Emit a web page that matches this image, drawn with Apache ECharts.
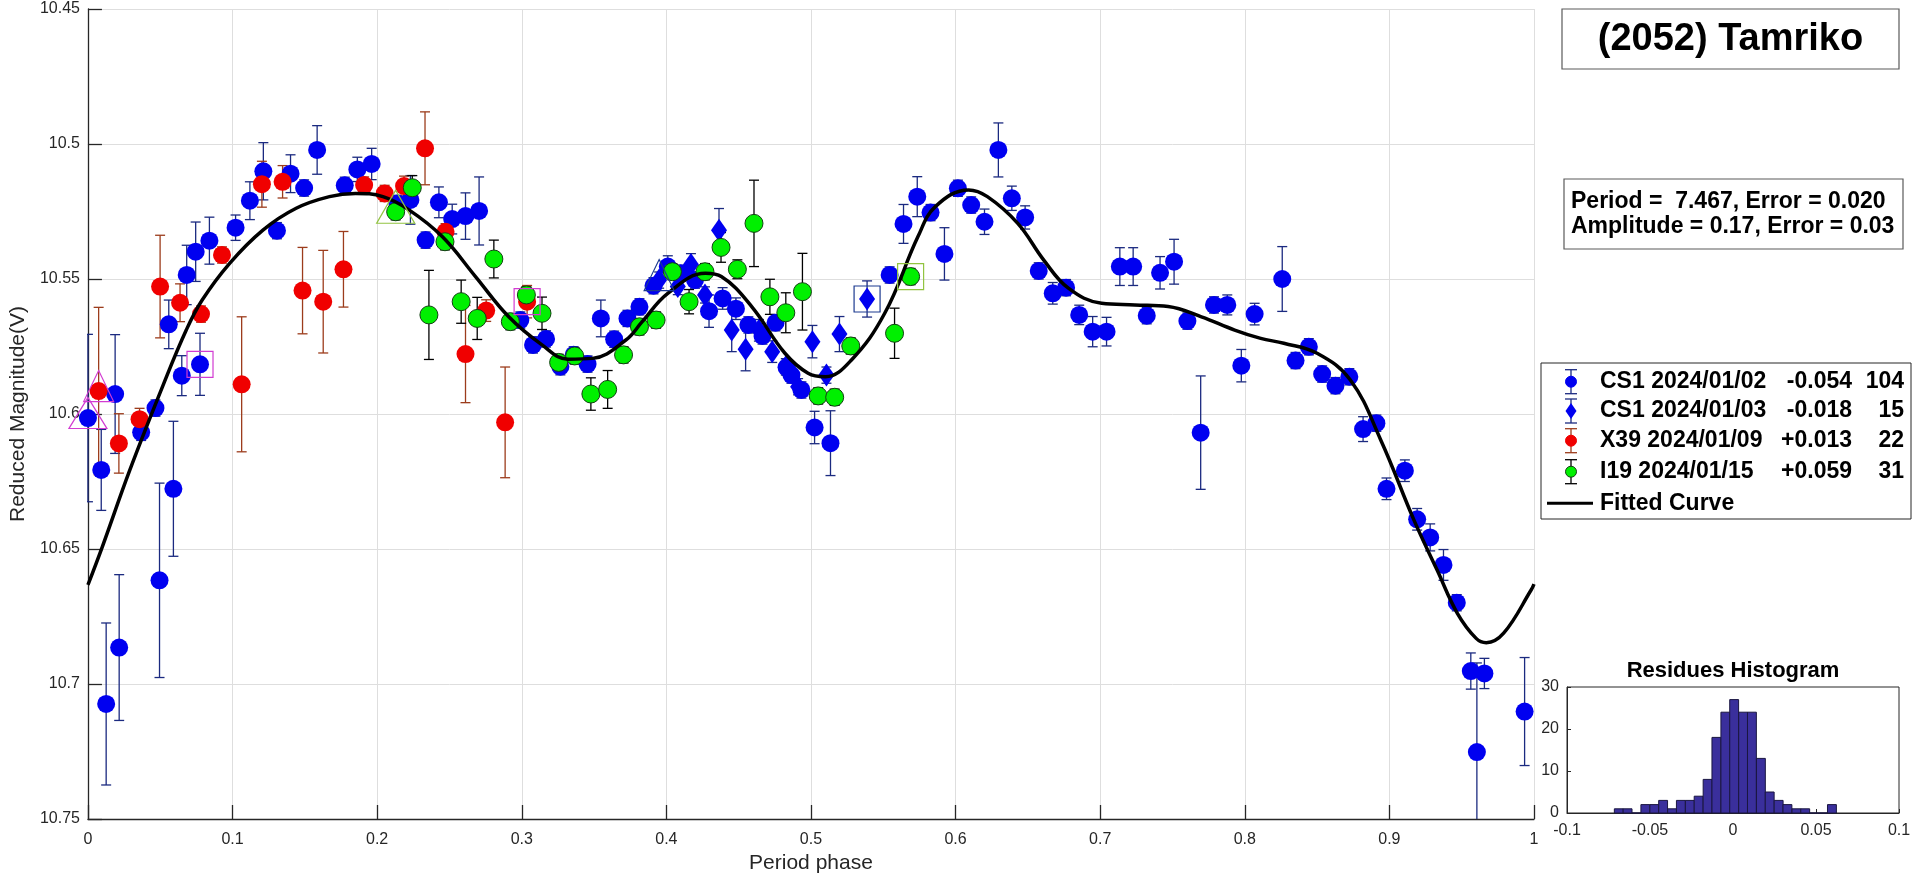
<!DOCTYPE html>
<html><head><meta charset="utf-8">
<script src="https://cdn.jsdelivr.net/npm/echarts/dist/echarts.min.js"></script>
<style>html,body{margin:0;padding:0;background:#fff}#c{width:1920px;height:879px}</style>
</head><body><div id="c"></div>
<script>
// [phase, reduced magnitude, error]
const cs1Jan02 = [
[0.0000,10.6015,0.031],[0.0092,10.6207,0.015],[0.0126,10.7074,0.030],[0.0188,10.5926,0.022],
[0.0216,10.6865,0.027],[0.0368,10.6068,0.003],[0.0467,10.5978,0.003],[0.0495,10.6616,0.036],
[0.0559,10.5668,0.009],[0.0591,10.6277,0.025],[0.0649,10.5858,0.0074],[0.0683,10.5485,0.011],
[0.0745,10.5399,0.011],[0.0775,10.5816,0.0115],[0.0840,10.5358,0.0087],[0.1021,10.5310,0.0047],
[0.1120,10.5210,0.0070],[0.1213,10.5101,0.0106],[0.1307,10.5321,0.003],[0.1401,10.5110,0.0070],
[0.1495,10.5163,0.0030],[0.1585,10.5022,0.0090],[0.1776,10.5153,0.003],[0.1863,10.5094,0.0045],
[0.1962,10.5074,0.0058],[0.2140,10.5220,0.003],[0.2230,10.5207,0.009],[0.2335,10.5356,0.003],
[0.2427,10.5216,0.0057],[0.2519,10.5278,0.0055],[0.2611,10.5267,0.0086],[0.2705,10.5248,0.0126],
[0.2990,10.5652,0.003],[0.3078,10.5744,0.003],[0.3168,10.5722,0.003],[0.3267,10.5825,0.003],
[0.3359,10.5781,0.003],[0.3455,10.5815,0.003],[0.3547,10.5646,0.0068],[0.3639,10.5723,0.003],
[0.3731,10.5646,0.003],[0.3814,10.5603,0.003],[0.3911,10.5525,0.003],[0.4010,10.5454,0.004],
[0.4099,10.5479,0.003],[0.4198,10.5504,0.003],[0.4295,10.5619,0.006],[0.4389,10.5572,0.004],
[0.4481,10.5610,0.004],[0.4567,10.5670,0.003],[0.4665,10.5711,0.003],[0.4755,10.5662,0.003],
[0.4831,10.5827,0.003],[0.4865,10.5856,0.003],[0.4934,10.5911,0.003],[0.5025,10.6050,0.006],
[0.5135,10.6108,0.012],[0.5544,10.5485,0.003],[0.5640,10.5296,0.0072],[0.5735,10.5195,0.0074],
[0.5827,10.5254,0.003],[0.5923,10.5407,0.0097],[0.6016,10.5164,0.003],[0.6108,10.5226,0.003],
[0.6200,10.5288,0.0047],[0.6296,10.5022,0.010],[0.6389,10.5201,0.0045],[0.6481,10.5272,0.0043],
[0.6575,10.5470,0.003],[0.6672,10.5553,0.004],[0.6764,10.5532,0.003],[0.6855,10.5633,0.0036],
[0.6948,10.5695,0.0056],[0.7044,10.5695,0.0053],[0.7136,10.5454,0.007],[0.7228,10.5454,0.007],
[0.7322,10.5636,0.003],[0.7414,10.5477,0.006],[0.7511,10.5436,0.0083],[0.7603,10.5656,0.003],
[0.7695,10.6069,0.021],[0.7787,10.5596,0.003],[0.7879,10.5596,0.0037],[0.7976,10.5821,0.006],
[0.8068,10.5630,0.004],[0.8259,10.5500,0.012],[0.8351,10.5802,0.003],[0.8443,10.5751,0.003],
[0.8535,10.5852,0.003],[0.8627,10.5895,0.003],[0.8723,10.5862,0.003],[0.8818,10.6056,0.0046],
[0.8910,10.6034,0.003],[0.8980,10.6277,0.004],[0.9107,10.6210,0.004],[0.9192,10.6390,0.004],
[0.9282,10.6457,0.005],[0.9374,10.6559,0.0057],[0.9466,10.6699,0.003],[0.9563,10.6952,0.0067],
[0.9657,10.6961,0.0056],[0.9605,10.7252,0.033],[0.9935,10.7102,0.020]
];
const cs1Jan03 = [
[0.3950,10.5504,0.003],[0.4079,10.5528,0.003],[0.4170,10.5446,0.004],[0.4267,10.5559,0.003],
[0.4364,10.5319,0.008],[0.4452,10.5689,0.008],[0.4548,10.5760,0.008],[0.4640,10.5690,0.004],
[0.4732,10.5769,0.004],[0.4826,10.5825,0.003],[0.4911,10.5899,0.003],[0.5010,10.5732,0.006],
[0.5107,10.5856,0.003],[0.5197,10.5704,0.0065],[0.5388,10.5574,0.0067]
];
const x39Jan09 = [
[0.0074,10.5915,0.031],[0.0214,10.6109,0.011],[0.0357,10.6019,0.004],[0.0499,10.5528,0.019],
[0.0637,10.5588,0.007],[0.0782,10.5630,0.003],[0.0927,10.5411,0.003],[0.1063,10.5890,0.025],
[0.1203,10.5149,0.0085],[0.1346,10.5140,0.006],[0.1484,10.5543,0.016],[0.1627,10.5584,0.019],
[0.1767,10.5464,0.014],[0.1910,10.5152,0.003],[0.2052,10.5183,0.003],[0.2186,10.5156,0.0037],
[0.2331,10.5016,0.0135],[0.2473,10.5325,0.003],[0.2611,10.5778,0.018],[0.2754,10.5617,0.004],
[0.2885,10.6031,0.0205],[0.3037,10.5584,0.006]
];
const i19Jan15 = [
[0.2128,10.5251,0.003],[0.2243,10.5162,0.0045],[0.2358,10.5633,0.0165],[0.2469,10.5362,0.003],
[0.2581,10.5584,0.008],[0.2692,10.5646,0.0078],[0.2807,10.5426,0.007],[0.2921,10.5658,0.003],
[0.3032,10.5559,0.003],[0.3140,10.5627,0.006],[0.3255,10.5809,0.003],[0.3366,10.5785,0.003],
[0.3478,10.5926,0.006],[0.3594,10.5909,0.007],[0.3704,10.5781,0.003],[0.3814,10.5677,0.003],
[0.3929,10.5652,0.003],[0.4042,10.5473,0.003],[0.4157,10.5584,0.0045],[0.4267,10.5473,0.003],
[0.4378,10.5383,0.0055],[0.4491,10.5464,0.0035],[0.4606,10.5294,0.016],[0.4716,10.5566,0.0065],
[0.4826,10.5625,0.0074],[0.4941,10.5547,0.0142],[0.5050,10.5933,0.003],[0.5164,10.5938,0.003],
[0.5275,10.5748,0.003],[0.5578,10.5701,0.0093],[0.5689,10.5491,0.003]
];
const curvePhase = [0.000,0.010,0.029,0.052,0.068,0.079,0.098,0.121,0.144,0.167,0.185,0.204,0.222,0.245,0.268,0.291,0.314,0.332,0.349,0.372,0.383,0.401,0.427,0.438,0.459,0.482,0.498,0.510,0.528,0.551,0.574,0.586,0.609,0.622,0.643,0.661,0.678,0.701,0.724,0.747,0.770,0.793,0.811,0.827,0.850,0.873,0.894,0.917,0.933,0.947,0.960,0.967,0.979,0.998,1.000];
const curveMag = [10.6633,10.6491,10.6207,10.5893,10.5689,10.5578,10.5442,10.5319,10.5238,10.5195,10.5183,10.5195,10.5244,10.5343,10.5491,10.5640,10.5744,10.5797,10.5794,10.5726,10.5660,10.5553,10.5479,10.5491,10.5602,10.5775,10.5849,10.5862,10.5800,10.5627,10.5343,10.5232,10.5170,10.5195,10.5294,10.5430,10.5534,10.5590,10.5596,10.5602,10.5640,10.5689,10.5720,10.5738,10.5775,10.5874,10.6096,10.6393,10.6578,10.6738,10.6831,10.6847,10.6812,10.6652,10.6630];
const histCenters = [-0.0688,-0.0635,-0.0581,-0.0528,-0.0474,-0.0421,-0.0367,-0.0314,-0.0260,-0.0207,-0.0153,-0.0100,-0.0046,0.0007,0.0061,0.0114,0.0168,0.0221,0.0275,0.0328,0.0382,0.0435,0.0489,0.0542,0.0596];
const histCounts = [1,1,0,2,2,3,1,3,3,4,8,18,24,27,24,24,13,5,3,2,1,1,0,0,2];
const histBinWidth = 0.00535;
const legendNames = ['CS1 2024/01/02','CS1 2024/01/03','X39 2024/01/09','I19 2024/01/15'];
const legendOffsets = ['-0.054','-0.018','+0.013','+0.059'];
const legendCounts = ['104','15','22','31'];
const titleText = '(2052) Tamriko';
const infoLines = ['Period =  7.467, Error = 0.020','Amplitude = 0.17, Error = 0.03'];

const FONT = '"Liberation Sans", Arial, Helvetica, sans-serif';
const chart = echarts.init(document.getElementById('c'), null, {renderer:'canvas'});

function errSeries(data, color){
  return {
    type:'custom', xAxisIndex:0, yAxisIndex:0, clip:true, z:2, silent:true,
    data:data, encode:{x:0,y:1},
    renderItem:function(params, api){
      const x=api.value(0), y=api.value(1), e=api.value(2);
      const a=api.coord([x,y-e]), b=api.coord([x,y+e]);
      const st={stroke:color, lineWidth:1.3};
      return {type:'group', children:[
        {type:'line', shape:{x1:a[0],y1:a[1],x2:b[0],y2:b[1]}, style:st},
        {type:'line', shape:{x1:a[0]-5,y1:a[1],x2:a[0]+5,y2:a[1]}, style:st},
        {type:'line', shape:{x1:b[0]-5,y1:b[1],x2:b[0]+5,y2:b[1]}, style:st}
      ]};
    }
  };
}
function pts(data){ return data.map(d=>[d[0],d[1]]); }

const BLUE='#0000f0', NAVY='#1b2a80', RED='#f00000', RUST='#9c3c1c', GREEN='#00f000', MAG='#d23cd2', YG='#92c441', DNAVY='#1c3a90';

const highlights = [
  {p:cs1Jan02[0], sym:'triangle', size:[38,31], c:MAG},
  {p:cs1Jan02[13], sym:'rect', size:[26,26], c:MAG},
  {p:x39Jan09[0], sym:'triangle', size:[30,31], c:MAG},
  {p:x39Jan09[21], sym:'rect', size:[26,26], c:MAG},
  {p:cs1Jan03[0], sym:'triangle', size:[30,31], c:DNAVY},
  {p:cs1Jan03[14], sym:'rect', size:[26,26], c:DNAVY},
  {p:i19Jan15[0], sym:'triangle', size:[38,33], c:YG},
  {p:i19Jan15[30], sym:'rect', size:[26,26], c:YG}
];

const series = [
  errSeries(cs1Jan02, NAVY),
  {type:'scatter', z:3, data:pts(cs1Jan02), symbol:'circle', symbolSize:18, itemStyle:{color:BLUE, opacity:1}},
  errSeries(cs1Jan03, NAVY),
  {type:'scatter', z:3, data:pts(cs1Jan03), symbol:'diamond', symbolSize:[16,23], itemStyle:{color:BLUE, opacity:1}},
  errSeries(x39Jan09, RUST),
  {type:'scatter', z:3, data:pts(x39Jan09), symbol:'circle', symbolSize:18, itemStyle:{color:RED, opacity:1}},
  errSeries(i19Jan15, '#000'),
  {type:'scatter', z:3, data:pts(i19Jan15), symbol:'circle', symbolSize:18, itemStyle:{color:GREEN, borderColor:'#124012', borderWidth:1, opacity:1}},
  {type:'line', z:4, data:curvePhase.map((p,i)=>[p,curveMag[i]]), smooth:0.4, showSymbol:false, symbol:'none',
   lineStyle:{color:'#000', width:3.5}},
];
highlights.forEach(h=>{
  series.push({type:'scatter', z:5, data:[[h.p[0],h.p[1]]], symbol:h.sym, symbolSize:h.size,
    symbolOffset: h.sym==='triangle'?[0,-5]:[0,0],
    itemStyle:{color:'rgba(0,0,0,0)', borderColor:h.c, borderWidth:1.2, opacity:1}});
});
series.push({
  type:'custom', xAxisIndex:1, yAxisIndex:1, z:3,
  data:histCenters.map((c,i)=>[c,histCounts[i]]), encode:{x:0,y:1},
  renderItem:function(params, api){
    const c=api.value(0), n=api.value(1);
    const p0=api.coord([c-histBinWidth/2,n]), p1=api.coord([c+histBinWidth/2,0]);
    return {type:'rect', shape:{x:p0[0], y:p0[1], width:p1[0]-p0[0], height:p1[1]-p0[1]},
      style:{fill:'#3a2f9c', stroke:'#1a1640', lineWidth:1}};
  }
});

// legend graphic
const rowY=[381.7,411,440.7,471.7,503.3];
const lgColors=[[BLUE,NAVY,'circle'],[BLUE,NAVY,'diamond'],[RED,RUST,'circle'],[GREEN,'#000','circle']];
const g=[];
g.push({type:'rect', shape:{x:1562,y:9,width:337,height:60}, style:{fill:'#fff', stroke:'#5a5a5a', lineWidth:1.2}});
g.push({type:'text', style:{text:titleText, x:1730.5, y:40, font:'bold 38px '+FONT, fill:'#000', align:'center', verticalAlign:'middle', textAlign:'center', textVerticalAlign:'middle'}});
g.push({type:'rect', shape:{x:1564,y:179,width:339,height:70}, style:{fill:'#fff', stroke:'#5a5a5a', lineWidth:1.2}});
infoLines.forEach((t,i)=>g.push({type:'text', style:{text:t, x:1571, y:202+i*24.7, font:'bold 23px '+FONT, fill:'#000', align:'left', verticalAlign:'middle', textAlign:'left', textVerticalAlign:'middle'}}));
g.push({type:'rect', shape:{x:1541,y:363,width:370,height:156}, style:{fill:'#fff', stroke:'#262626', lineWidth:1}});
for(let i=0;i<4;i++){
  const y=rowY[i], x=1571, [fc,ec,shape]=lgColors[i];
  const st={stroke:ec, lineWidth:1.3};
  g.push({type:'line', shape:{x1:x,y1:y-12,x2:x,y2:y+12}, style:st});
  g.push({type:'line', shape:{x1:x-6,y1:y-12,x2:x+6,y2:y-12}, style:st});
  g.push({type:'line', shape:{x1:x-6,y1:y+12,x2:x+6,y2:y+12}, style:st});
  if(shape==='circle') g.push({type:'circle', shape:{cx:x,cy:y,r:5.5}, style:{fill:fc, stroke:i===3?'#124012':fc, lineWidth:1}});
  else g.push({type:'polygon', shape:{points:[[x,y-8],[x+5.5,y],[x,y+8],[x-5.5,y]]}, style:{fill:fc}});
  const ts={font:'bold 23px '+FONT, fill:'#000', verticalAlign:'middle', textVerticalAlign:'middle'};
  g.push({type:'text', style:Object.assign({text:legendNames[i], x:1600, y:y, align:'left', textAlign:'left'}, ts)});
  g.push({type:'text', style:Object.assign({text:legendOffsets[i], x:1852, y:y, align:'right', textAlign:'right'}, ts)});
  g.push({type:'text', style:Object.assign({text:legendCounts[i], x:1904, y:y, align:'right', textAlign:'right'}, ts)});
}
g.push({type:'line', shape:{x1:1547,y1:rowY[4],x2:1593,y2:rowY[4]}, style:{stroke:'#000', lineWidth:3}});
g.push({type:'text', style:{text:'Fitted Curve', x:1600, y:rowY[4], font:'bold 23px '+FONT, fill:'#000', align:'left', verticalAlign:'middle', textAlign:'left', textVerticalAlign:'middle'}});
g.push({type:'text', style:{text:'Residues Histogram', x:1733, y:671, font:'bold 22px '+FONT, fill:'#000', align:'center', verticalAlign:'middle', textAlign:'center', textVerticalAlign:'middle'}});

const axisCol='#262626', gridCol='#dedede';
chart.setOption({
  animation:false,
  backgroundColor:'#fff',
  textStyle:{fontFamily:FONT},
  grid:[
    {left:85, top:9, width:1449, height:810, containLabel:false},
    {left:1567, top:687, width:332, height:126, show:true, borderColor:axisCol, borderWidth:1, backgroundColor:'rgba(0,0,0,0)'}
  ],
  xAxis:[
    {type:'value', gridIndex:0, min:0, max:1, interval:0.1,
     name:'Period phase', nameLocation:'middle', nameGap:31, nameTextStyle:{fontSize:21, color:axisCol, fontFamily:FONT},
     axisLine:{show:true, onZero:false, lineStyle:{color:axisCol, width:1.3}},
     axisTick:{show:true, inside:true, length:14, lineStyle:{color:axisCol, width:1.3}},
     axisLabel:{fontSize:16, color:axisCol, margin:13, fontFamily:FONT},
     splitLine:{show:true, lineStyle:{color:gridCol, width:1}}},
    {type:'value', gridIndex:1, min:-0.1, max:0.1, interval:0.05,
     axisLine:{show:true, onZero:false, lineStyle:{color:axisCol}},
     axisTick:{show:true, inside:true, length:4, lineStyle:{color:axisCol}},
     axisLabel:{fontSize:16, color:axisCol, margin:10, fontFamily:FONT},
     splitLine:{show:false}}
  ],
  yAxis:[
    {type:'value', gridIndex:0, inverse:true, min:10.45, max:10.75, interval:0.05,
     name:'Reduced Magnitude(V)', nameLocation:'middle', nameGap:48, nameRotate:90, nameTextStyle:{fontSize:21, color:axisCol, fontFamily:FONT},
     axisLine:{show:true, onZero:false, lineStyle:{color:axisCol, width:1.3}},
     axisTick:{show:true, inside:true, length:14, lineStyle:{color:axisCol, width:1.3}},
     axisLabel:{fontSize:16, color:axisCol, margin:8, fontFamily:FONT},
     splitLine:{show:true, lineStyle:{color:gridCol, width:1}}},
    {type:'value', gridIndex:1, min:0, max:30, interval:10,
     axisLine:{show:true, onZero:false, lineStyle:{color:axisCol}},
     axisTick:{show:true, inside:true, length:4, lineStyle:{color:axisCol}},
     axisLabel:{fontSize:16, color:axisCol, margin:8, fontFamily:FONT},
     splitLine:{show:false}}
  ],
  series:series,
  graphic:{elements:g}
});
</script>
</body></html>
